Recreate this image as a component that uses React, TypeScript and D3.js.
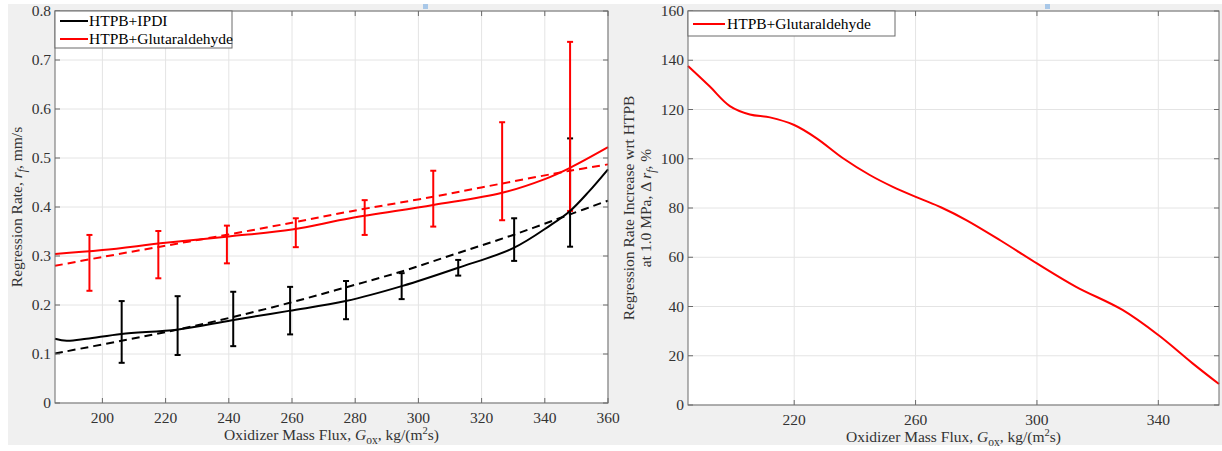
import React from "react";
import * as d3 from "d3";

// ---------- data ----------
const ipdiFitG = [185, 188.7, 195, 206, 224, 241, 259, 277, 295, 312.6, 330, 341.6, 348, 354, 360];
const ipdiFitR = [0.131, 0.127, 0.131, 0.141, 0.150, 0.169, 0.188, 0.208, 0.239, 0.276, 0.316, 0.362, 0.392, 0.432, 0.477];

const ipdiLawG = [185, 206, 224, 241, 259, 277, 295, 312, 330, 348, 360];
const ipdiLawR = [0.101, 0.127, 0.150, 0.175, 0.204, 0.236, 0.269, 0.305, 0.343, 0.385, 0.413];

const glutFitG = [185, 200, 220, 240, 260, 278.4, 304.7, 326.5, 340, 348, 360];
const glutFitR = [0.304, 0.312, 0.327, 0.340, 0.354, 0.377, 0.404, 0.429, 0.457, 0.480, 0.522];

const glutLawG = [185, 200, 220, 240, 260, 278.4, 304.7, 326.5, 348, 360];
const glutLawR = [0.280, 0.298, 0.321, 0.344, 0.368, 0.391, 0.421, 0.448, 0.474, 0.487];

const ipdiBarG = [206.1, 223.8, 241.4, 259.4, 277.1, 294.7, 312.6, 330.3, 348];
const ipdiBarLo = [0.082, 0.098, 0.116, 0.140, 0.171, 0.212, 0.260, 0.290, 0.319];
const ipdiBarHi = [0.208, 0.218, 0.227, 0.237, 0.249, 0.265, 0.292, 0.377, 0.540];

const glutBarG = [195.9, 217.7, 239.4, 261.2, 283, 304.7, 326.5, 348];
const glutBarLo = [0.229, 0.2545, 0.285, 0.318, 0.343, 0.360, 0.373, 0.392];
const glutBarHi = [0.343, 0.351, 0.362, 0.377, 0.414, 0.474, 0.573, 0.737];

const incG = [185, 192.2, 198.8, 205.4, 212, 220, 227.4, 236.1, 244.9, 252.5, 261.3, 268.5, 276.7, 288, 300, 312.9, 328.2, 340, 351.3, 360];
const incV = [137.7, 129.3, 121.4, 118, 116.8, 113.7, 108.3, 100.2, 93.4, 88.6, 83.9, 80.2, 75.1, 66.8, 57.5, 48, 38.6, 28.4, 16.9, 8.5];

const leftXTicks = [200, 220, 240, 260, 280, 300, 320, 340, 360];
const leftYTicks = [0, 0.1, 0.2, 0.3, 0.4, 0.5, 0.6, 0.7, 0.8];
const rightXTicks = [220, 260, 300, 340];
const rightYTicks = [0, 20, 40, 60, 80, 100, 120, 140, 160];

const FONT = "'Liberation Serif', 'Times New Roman', serif";
const FS = 15.5;
const TXT = "#333333";
const AX = "#6a6a6a";
const GRID = "#e4e4e4";

type Sc = d3.ScaleLinear<number, number>;

function Grid({ x, y, xTicks, yTicks }: { x: Sc; y: Sc; xTicks: number[]; yTicks: number[] }) {
  const [x0, x1] = x.range();
  const [y0, y1] = y.range();
  return (
    <g>
      <rect x={x0} y={y1} width={x1 - x0} height={y0 - y1} fill="#fff" />
      {xTicks.map((t) => (
        <line key={"gx" + t} x1={x(t)} x2={x(t)} y1={y0} y2={y1} stroke={GRID} strokeWidth={1} />
      ))}
      {yTicks.map((t) => (
        <line key={"gy" + t} x1={x0} x2={x1} y1={y(t)} y2={y(t)} stroke={GRID} strokeWidth={1} />
      ))}
    </g>
  );
}

function Frame({
  x, y, xTicks, yTicks, yFmt,
}: {
  x: Sc;
  y: Sc;
  xTicks: number[];
  yTicks: number[];
  yFmt: (v: number) => string;
}) {
  const [x0, x1] = x.range();
  const [y0, y1] = y.range();
  const tl = 5;
  return (
    <g>
      <rect x={x0} y={y1} width={x1 - x0} height={y0 - y1} fill="none" stroke={AX} strokeWidth={1} />
      {xTicks.map((t) => (
        <g key={"tx" + t}>
          <line x1={x(t)} x2={x(t)} y1={y0} y2={y0 - tl} stroke={AX} />
          <line x1={x(t)} x2={x(t)} y1={y1} y2={y1 + tl} stroke={AX} />
          <text x={x(t)} y={y0 + 20} textAnchor="middle" fontFamily={FONT} fontSize={FS} fill={TXT}>
            {t}
          </text>
        </g>
      ))}
      {yTicks.map((t) => (
        <g key={"ty" + t}>
          <line x1={x0} x2={x0 + tl} y1={y(t)} y2={y(t)} stroke={AX} />
          <line x1={x1} x2={x1 - tl} y1={y(t)} y2={y(t)} stroke={AX} />
          <text x={x0 - 4} y={y(t) + 5} textAnchor="end" fontFamily={FONT} fontSize={FS} fill={TXT}>
            {yFmt(t)}
          </text>
        </g>
      ))}
    </g>
  );
}

function XLabel({ cx, yb }: { cx: number; yb: number }) {
  return (
    <text x={cx} y={yb} textAnchor="middle" fontFamily={FONT} fontSize={FS} fill={TXT}>
      Oxidizer Mass Flux,{" "}
      <tspan fontStyle="italic">G</tspan>
      <tspan fontSize={11.5} dy={4}>ox</tspan>
      <tspan dy={-4}>, kg/(m</tspan>
      <tspan fontSize={10.5} dy={-6}>2</tspan>
      <tspan dy={6}>s)</tspan>
    </text>
  );
}

export default function App() {
  const W = 1222;
  const H = 451;

  const xL = d3.scaleLinear().domain([185, 360]).range([55, 608]);
  const yL = d3.scaleLinear().domain([0, 0.8]).range([403, 11]);
  const xR = d3.scaleLinear().domain([185, 360]).range([688, 1219]);
  const yR = d3.scaleLinear().domain([0, 160]).range([405, 11]);

  const lineL = (gs: number[], rs: number[]) =>
    d3
      .line<number>()
      .x((_, i) => xL(gs[i]))
      .y((v) => yL(v))
      .curve(d3.curveCatmullRom.alpha(0.5))(rs) || "";

  const lineR =
    d3
      .line<number>()
      .x((_, i) => xR(incG[i]))
      .y((v) => yR(v))
      .curve(d3.curveCatmullRom.alpha(0.5))(incV) || "";

  const fmtL = (v: number) => (v === 0 ? "0" : d3.format(".1f")(v));
  const fmtR = (v: number) => String(v);

  const errBars = (gs: number[], lo: number[], hi: number[], color: string, key: string) =>
    gs.map((g, i) => (
      <g key={key + i} stroke={color} strokeWidth={2}>
        <line x1={xL(g)} x2={xL(g)} y1={yL(lo[i])} y2={yL(hi[i])} />
        <line x1={xL(g) - 3} x2={xL(g) + 3} y1={yL(lo[i])} y2={yL(lo[i])} />
        <line x1={xL(g) - 3} x2={xL(g) + 3} y1={yL(hi[i])} y2={yL(hi[i])} />
      </g>
    ));

  return (
    <svg
      width={W}
      height={H}
      style={{ position: "absolute", left: 0, top: 0, background: "#fff" }}
    >
      <rect x={8} y={4} width={W - 8} height={441} fill="#f0f0f0" />
      <rect x={423} y={4} width={5} height={5} fill="#a9c8e8" />
      <rect x={1045} y={4} width={5} height={5} fill="#a9c8e8" />

      {/* Left chart */}
      <Grid x={xL} y={yL} xTicks={leftXTicks} yTicks={leftYTicks} />
      <path d={lineL(ipdiLawG, ipdiLawR)} fill="none" stroke="#000" strokeWidth={2} strokeDasharray="8,5" />
      <path d={lineL(glutLawG, glutLawR)} fill="none" stroke="#ff0000" strokeWidth={2} strokeDasharray="8,5" />
      {errBars(ipdiBarG, ipdiBarLo, ipdiBarHi, "#000", "ib")}
      {errBars(glutBarG, glutBarLo, glutBarHi, "#ff0000", "gb")}
      <path d={lineL(ipdiFitG, ipdiFitR)} fill="none" stroke="#000" strokeWidth={2} />
      <path d={lineL(glutFitG, glutFitR)} fill="none" stroke="#ff0000" strokeWidth={2} />
      <Frame x={xL} y={yL} xTicks={leftXTicks} yTicks={leftYTicks} yFmt={fmtL} />

      {/* Left legend */}
      <g>
        <rect x={55} y={11} width={177} height={37} fill="#fff" stroke={AX} strokeWidth={1} />
        <line x1={60} x2={88} y1={21} y2={21} stroke="#000" strokeWidth={2} />
        <text x={89} y={26} fontFamily={FONT} fontSize={FS} fill="#000">HTPB+IPDI</text>
        <line x1={60} x2={88} y1={39} y2={39} stroke="#ff0000" strokeWidth={2} />
        <text x={89} y={44} fontFamily={FONT} fontSize={FS} fill="#000">HTPB+Glutaraldehyde</text>
      </g>

      {/* Left labels */}
      <XLabel cx={331.5} yb={440} />
      <text
        transform={`translate(22,207) rotate(-90)`}
        textAnchor="middle"
        fontFamily={FONT}
        fontSize={FS}
        fill={TXT}
      >
        Regression Rate, <tspan fontStyle="italic">r</tspan>
        <tspan fontStyle="italic" fontSize={11.5} dy={4}>f</tspan>
        <tspan dy={-4}>, mm/s</tspan>
      </text>

      {/* Right chart */}
      <Grid x={xR} y={yR} xTicks={rightXTicks} yTicks={rightYTicks} />
      <path d={lineR} fill="none" stroke="#ff0000" strokeWidth={2} />
      <Frame x={xR} y={yR} xTicks={rightXTicks} yTicks={rightYTicks} yFmt={fmtR} />

      <g>
        <rect x={688} y={11} width={207} height={25} fill="#fff" stroke={AX} strokeWidth={1} />
        <line x1={693} x2={725} y1={24} y2={24} stroke="#ff0000" strokeWidth={2} />
        <text x={727} y={29} fontFamily={FONT} fontSize={FS} fill="#000">HTPB+Glutaraldehyde</text>
      </g>

      <XLabel cx={953.5} yb={442} />
      <text
        transform={`translate(634,208) rotate(-90)`}
        textAnchor="middle"
        fontFamily={FONT}
        fontSize={FS}
        fill={TXT}
      >
        Regression Rate Increase wrt HTPB
      </text>
      <text
        transform={`translate(651,208) rotate(-90)`}
        textAnchor="middle"
        fontFamily={FONT}
        fontSize={FS}
        fill={TXT}
      >
        at 1.0 MPa, Δ <tspan fontStyle="italic">r</tspan>
        <tspan fontStyle="italic" fontSize={11.5} dy={4}>f</tspan>
        <tspan dy={-4}>, %</tspan>
      </text>
    </svg>
  );
}
